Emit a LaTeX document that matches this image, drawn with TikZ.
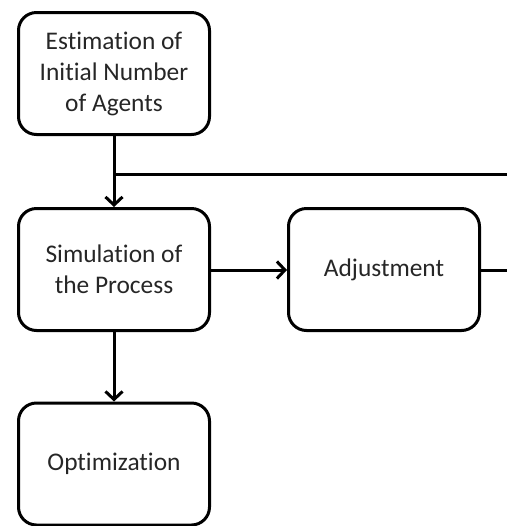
\documentclass[tikz,border=0pt]{standalone}
\usepackage{fontspec}
\setmainfont{Carlito}[Ligatures=NoCommon]
\usetikzlibrary{arrows.meta}
\tikzstyle{stage} = [draw, rectangle, rounded corners=9pt, line width=1.5pt, minimum width=95.5pt, minimum height=61pt, align=center, text=black!85, font=\fontsize{12.7}{15.5}\selectfont, inner sep=1pt]
\tikzstyle{flow} = [line width=1.5pt, -{Straight Barb[length=4pt,width=8.5pt,line width=1.5pt]}]

\begin{document}
\begin{tikzpicture}[x=0.5pt, y=-0.5pt]
    \useasboundingbox (0,0) rectangle (507,526);
    \clip (0,0) rectangle (507,526);
    \node[stage] (est) at (114,73.5) {Estimation of\\Initial Number\\of Agents};
    \node[stage] (sim) at (114,269.5) {Simulation of\\the Process};
    \node[stage] (adj) at (384,269.5) {Adjustment};
    \node[stage] (opt) at (114,464) {Optimization};
    \coordinate (split) at (est.south |- 0,174);
    \coordinate (topend) at (520,174);
    \coordinate (rightend) at (520,270);
        \draw [flow] (est) -- (sim);
        \draw [flow] (sim.east |- 0,270) -- (adj.west |- 0,270);
        \draw [flow] (sim) -- (opt);
        \draw [line width=1.5pt] (split) -- (topend);
        \draw [line width=1.5pt] (adj.east |- 0,270) -- (rightend);
\end{tikzpicture}
\end{document}
